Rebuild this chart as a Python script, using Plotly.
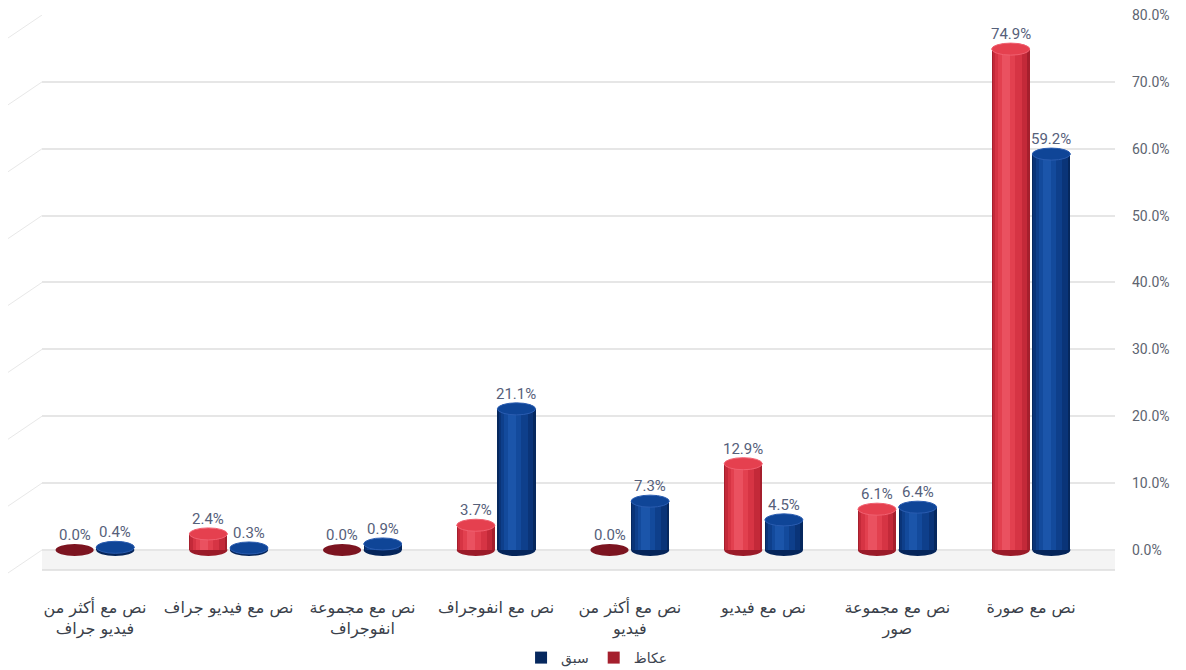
import plotly.graph_objects as go

# Content formats, left to right
categories = [
    "نص مع أكثر من<br>فيديو جراف",
    "نص مع فيديو جراف",
    "نص مع مجموعة<br>انفوجراف",
    "نص مع انفوجراف",
    "نص مع أكثر من<br>فيديو",
    "نص مع فيديو",
    "نص مع مجموعة<br>صور",
    "نص مع صورة",
]
okaz = [0.0, 2.4, 0.0, 3.7, 0.0, 12.9, 6.1, 74.9]
sabq = [0.4, 0.3, 0.9, 21.1, 7.3, 4.5, 6.4, 59.2]
y_ticks = [0, 10, 20, 30, 40, 50, 60, 70, 80]

positions = list(range(len(categories)))
BAR_W = 0.285
GAP = 0.152
ELL = 0.9  # half height of the cylinder caps, in axis units

series = [
    dict(name="عكاظ", values=okaz, shift=-GAP, rank=2,
         layers=[(1.0, 0.0, "#a51f2d"), (0.9, -0.02, "#c32939"), (0.7, -0.06, "#d63444"),
                 (0.45, -0.1, "#e2404f"), (0.22, -0.12, "#ea5160")],
         top="#e5404f", top_line="#f06070", bottom="#9a1b29", zero="#7c1420"),
    dict(name="سبق", values=sabq, shift=GAP, rank=1,
         layers=[(1.0, 0.0, "#06285e"), (0.9, -0.02, "#0a3478"), (0.7, -0.06, "#0e3f8b"),
                 (0.45, -0.1, "#134a9c"), (0.22, -0.12, "#1b55aa")],
         top="#0f4597", top_line="#2a5cb0", bottom="#05255a", zero="#0a2f70"),
]

fig = go.Figure()
shapes = []
annotations = []

# floor plane in front of the zero line
shapes.append(dict(type="rect", xref="paper", yref="y", x0=0, x1=1, y0=-3.0, y1=0,
                   fillcolor="#f4f4f4", line=dict(width=0), layer="below"))
shapes.append(dict(type="line", xref="paper", yref="y", x0=0, x1=1, y0=-3.0, y1=-3.0,
                   line=dict(color="#dcdcdc", width=1.5), layer="below"))

for s in series:
    xs = [p + s["shift"] for p in positions]
    for i, (frac, off, col) in enumerate(s["layers"]):
        fig.add_trace(go.Bar(
            x=[x + off * BAR_W for x in xs], y=s["values"], width=BAR_W * frac,
            marker=dict(color=col, line=dict(width=0)),
            name=s["name"], showlegend=(i == 0), legendrank=s["rank"],
            hoverinfo="skip",
        ))
    for x, v in zip(xs, s["values"]):
        # rounded base of the cylinder
        shapes.append(dict(type="circle", xref="x", yref="y",
                           x0=x - BAR_W / 2, x1=x + BAR_W / 2, y0=-ELL, y1=ELL,
                           fillcolor=s["bottom"] if v > 0 else s["zero"],
                           line=dict(width=0), layer="between" if v > 0 else "above"))
        if v > 0:
            shapes.append(dict(type="circle", xref="x", yref="y",
                               x0=x - BAR_W / 2, x1=x + BAR_W / 2, y0=v - ELL, y1=v + ELL,
                               fillcolor=s["top"], line=dict(color=s["top_line"], width=1),
                               layer="above"))
        annotations.append(dict(x=x, y=v, xref="x", yref="y", text=f"{v:.1f}%",
                                showarrow=False, yanchor="bottom", yshift=4,
                                font=dict(family="Roboto, DejaVu Sans", size=15, color="#56607a")))

# slanted left edge of the back wall at each grid line
for t in y_ticks:
    shapes.append(dict(type="line", xref="paper", yref="y", xsizemode="pixel", xanchor=0,
                       ysizemode="pixel", yanchor=t, x0=-34, x1=0, y0=-23, y1=0,
                       line=dict(color="#e8e8e8", width=1)))

fig.update_layout(
    width=1186, height=670,
    margin=dict(l=42, r=71, t=15, b=92, autoexpand=False),
    paper_bgcolor="white", plot_bgcolor="white",
    barmode="overlay", bargap=0,
    shapes=shapes, annotations=annotations,
    showlegend=True,
    legend=dict(orientation="h", xref="container", yref="container",
                x=0.503, xanchor="center", y=12 / 670, yanchor="middle",
                font=dict(family="DejaVu Sans", size=14, color="#3d4450"),
                itemwidth=30, traceorder="normal"),
    xaxis=dict(
        range=[-0.396, 7.628], tickmode="array", tickvals=positions, ticktext=categories,
        showgrid=False, zeroline=False, showline=False, ticks="", automargin=False,
        ticklabelstandoff=18,
        tickfont=dict(family="DejaVu Sans", size=16, color="#3a3f4a"),
    ),
    yaxis=dict(
        side="right", range=[-4.19, 80], tickmode="array", tickvals=y_ticks,
        ticktext=[f"{t:.1f}%" for t in y_ticks], automargin=False,
        showgrid=True, gridcolor="#e6e6e6", gridwidth=1.5, zeroline=False, showline=False,
        ticks="", ticklabelstandoff=16,
        tickfont=dict(family="Roboto, DejaVu Sans", size=14, color="#5d6470"),
    ),
)

fig.write_html("out.html")
